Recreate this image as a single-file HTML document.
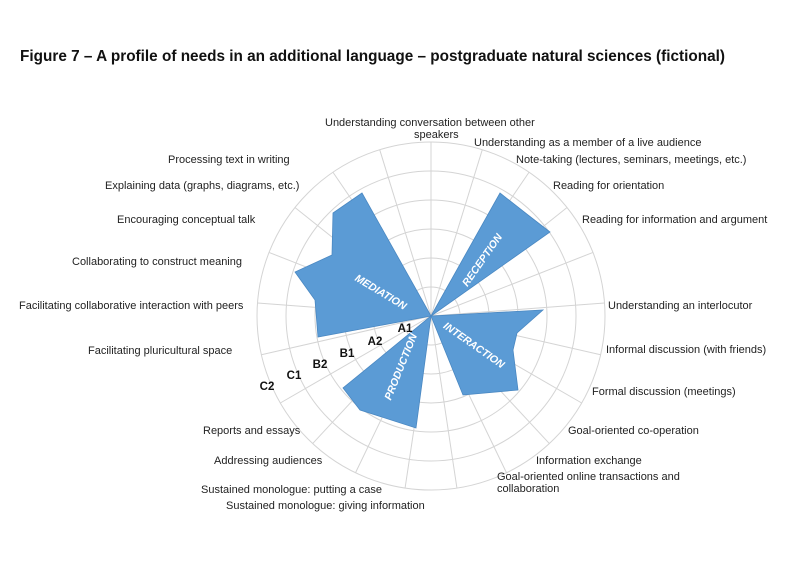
<!DOCTYPE html>
<html><head><meta charset="utf-8"><style>
html,body{margin:0;padding:0;background:#fff;}
svg{display:block;font-family:"Liberation Sans",sans-serif;}
.l{font-size:11px;fill:#222;}
.lv{font-size:11.5px;font-weight:bold;fill:#111;text-anchor:middle;}
.c{font-size:10.5px;font-weight:bold;font-style:italic;fill:#fff;text-anchor:middle;}
</style></head><body>
<svg width="800" height="566" viewBox="0 0 800 566">
<text x="20" y="61" font-size="15.5" font-weight="bold" fill="#111" textLength="705" lengthAdjust="spacingAndGlyphs">Figure 7 – A profile of needs in an additional language – postgraduate natural sciences (fictional)</text>
<g transform="translate(431,316)" fill="none" stroke="#d4d4d4" stroke-width="1">
<circle r="29"/><circle r="58"/><circle r="87"/><circle r="116"/><circle r="145"/><circle r="174"/>
<g>
<line x2="0" y2="-174" transform="rotate(0)"/>
<line x2="0" y2="-174" transform="rotate(17.14)"/>
<line x2="0" y2="-174" transform="rotate(34.29)"/>
<line x2="0" y2="-174" transform="rotate(51.43)"/>
<line x2="0" y2="-174" transform="rotate(68.57)"/>
<line x2="0" y2="-174" transform="rotate(85.71)"/>
<line x2="0" y2="-174" transform="rotate(102.86)"/>
<line x2="0" y2="-174" transform="rotate(120)"/>
<line x2="0" y2="-174" transform="rotate(137.14)"/>
<line x2="0" y2="-174" transform="rotate(154.29)"/>
<line x2="0" y2="-174" transform="rotate(171.43)"/>
<line x2="0" y2="-174" transform="rotate(188.57)"/>
<line x2="0" y2="-174" transform="rotate(205.71)"/>
<line x2="0" y2="-174" transform="rotate(222.86)"/>
<line x2="0" y2="-174" transform="rotate(240)"/>
<line x2="0" y2="-174" transform="rotate(257.14)"/>
<line x2="0" y2="-174" transform="rotate(274.29)"/>
<line x2="0" y2="-174" transform="rotate(291.43)"/>
<line x2="0" y2="-174" transform="rotate(308.57)"/>
<line x2="0" y2="-174" transform="rotate(325.71)"/>
<line x2="0" y2="-174" transform="rotate(342.86)"/>
</g>
</g>
<g fill="#5b9bd5" stroke="#4a88c2" stroke-width="0.8">
<polygon points="431,316 500,193 528,215 550,232"/>
<polygon points="431,316 543,310 517,333 513,350 518,390 463,395"/>
<polygon points="431,316 416,428 360,410 343,388"/>
<polygon points="431,316 318,337 315,300 295,272 332,255 333,213 362,193"/>
</g>
<text class="c" transform="translate(379,295) rotate(31)">MEDIATION</text>
<text class="c" transform="translate(485,262) rotate(-55)">RECEPTION</text>
<text class="c" transform="translate(472,348) rotate(35)">INTERACTION</text>
<text class="c" transform="translate(404,368) rotate(-68)">PRODUCTION</text>
<text class="lv" x="405" y="332">A1</text>
<text class="lv" x="375" y="345">A2</text>
<text class="lv" x="347" y="357">B1</text>
<text class="lv" x="320" y="368">B2</text>
<text class="lv" x="294" y="379">C1</text>
<text class="lv" x="267" y="390">C2</text>
<g class="l">
<text x="325" y="126">Understanding conversation between other</text>
<text x="414" y="138">speakers</text>
<text x="474" y="146">Understanding as a member of a live audience</text>
<text x="516" y="163">Note-taking (lectures, seminars, meetings, etc.)</text>
<text x="553" y="189">Reading for orientation</text>
<text x="582" y="223">Reading for information and argument</text>
<text x="608" y="309">Understanding an interlocutor</text>
<text x="606" y="353">Informal discussion (with friends)</text>
<text x="592" y="395">Formal discussion (meetings)</text>
<text x="568" y="434">Goal-oriented co-operation</text>
<text x="536" y="464">Information exchange</text>
<text x="497" y="480">Goal-oriented online transactions and</text>
<text x="497" y="492">collaboration</text>
<text x="226" y="509">Sustained monologue: giving information</text>
<text x="201" y="493">Sustained monologue: putting a case</text>
<text x="214" y="464">Addressing audiences</text>
<text x="203" y="434">Reports and essays</text>
<text x="88" y="354">Facilitating pluricultural space</text>
<text x="19" y="309">Facilitating collaborative interaction with peers</text>
<text x="72" y="265">Collaborating to construct meaning</text>
<text x="117" y="223">Encouraging conceptual talk</text>
<text x="105" y="189">Explaining data (graphs, diagrams, etc.)</text>
<text x="168" y="163">Processing text in writing</text>
</g>
</svg>
</body></html>
